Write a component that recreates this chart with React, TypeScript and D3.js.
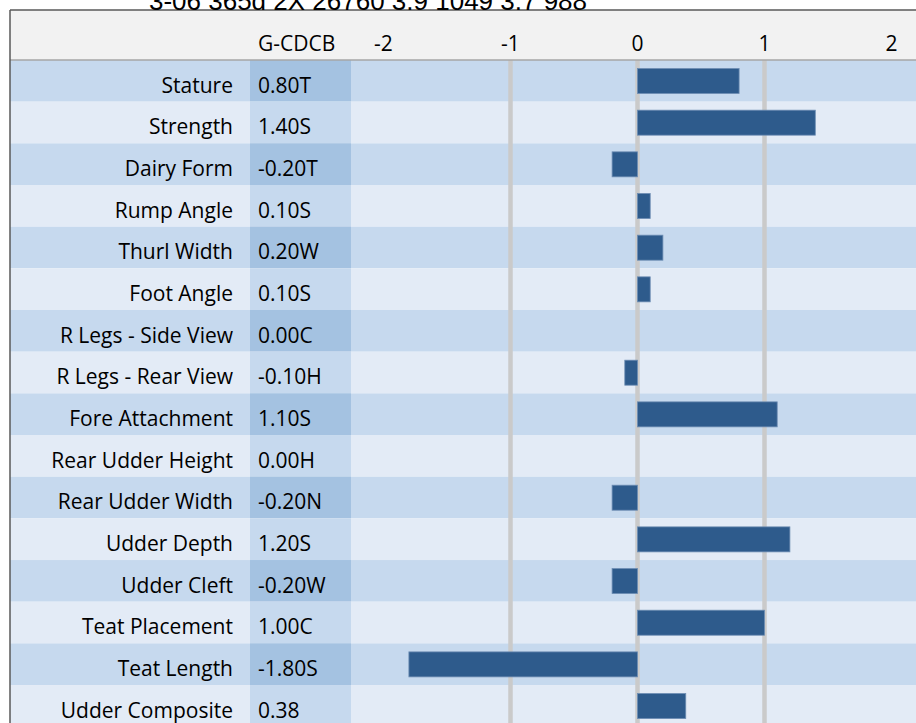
import React from "react";
import * as d3 from "d3";

const title = "3-06 365d 2X 26760 3.9 1049 3.7 988";
const columnHeader = "G-CDCB";
const traits = [
  "Stature",
  "Strength",
  "Dairy Form",
  "Rump Angle",
  "Thurl Width",
  "Foot Angle",
  "R Legs - Side View",
  "R Legs - Rear View",
  "Fore Attachment",
  "Rear Udder Height",
  "Rear Udder Width",
  "Udder Depth",
  "Udder Cleft",
  "Teat Placement",
  "Teat Length",
  "Udder Composite",
];
const values = [0.8, 1.4, -0.2, 0.1, 0.2, 0.1, 0.0, -0.1, 1.1, 0.0, -0.2, 1.2, -0.2, 1.0, -1.8, 0.38];
const valueLabels = [
  "0.80T", "1.40S", "-0.20T", "0.10S", "0.20W", "0.10S", "0.00C", "-0.10H",
  "1.10S", "0.00H", "-0.20N", "1.20S", "-0.20W", "1.00C", "-1.80S", "0.38",
];
const ticks = [-2, -1, 0, 1, 2];
const gridTicks = [-1, 0, 1];

const W = 916;
const H = 723;
const frameLeft = 10;
const frameTop = 10;
const headerBottom = 60;
const rowH = 41.67;
const labelColEnd = 250;
const valueColEnd = 351;

const FONT = "'Open Sans', Lato, sans-serif";
const FS = 21;

export default function App() {
  const x = d3.scaleLinear().domain([-2, 2]).range([383.5, 891.5]);
  const y = d3
    .scaleBand<string>()
    .domain(traits)
    .range([headerBottom, headerBottom + rowH * traits.length])
    .paddingInner(0)
    .paddingOuter(0);
  const bandH = y.bandwidth();
  const barH = 25;
  const barOff = 8.5;

  return (
    <svg
      width={W}
      height={H}
      style={{ position: "absolute", left: 0, top: 0, display: "block", background: "#fff" }}
    >
      {/* header */}
      <rect x={frameLeft} y={frameTop} width={W - frameLeft} height={headerBottom - frameTop} fill="#f2f2f2" />
      {/* rows */}
      {traits.map((t, i) => {
        const dark = i % 2 === 0;
        const y0 = y(t)!;
        return (
          <g key={t}>
            <rect x={frameLeft} y={y0} width={W - frameLeft} height={bandH} fill={dark ? "#c6d9ee" : "#e3ebf6"} />
            <rect x={labelColEnd} y={y0} width={valueColEnd - labelColEnd} height={bandH} fill={dark ? "#a4c2e1" : "#c6d9ee"} />
          </g>
        );
      })}
      {/* grid lines */}
      {gridTicks.map((t) => (
        <line
          key={t}
          x1={x(t)}
          x2={x(t)}
          y1={headerBottom}
          y2={H}
          stroke="#cacaca"
          strokeWidth={4.5}
        />
      ))}
      {/* bars */}
      {traits.map((t, i) => {
        const v = values[i];
        if (v === 0) return null;
        const x0 = Math.min(x(0), x(v));
        const w = Math.abs(x(v) - x(0));
        return (
          <rect
            key={t}
            x={x0}
            y={y(t)! + barOff}
            width={w}
            height={barH}
            fill="#2e5b8c"
            stroke="#6d8db3"
            strokeWidth={0.8}
          />
        );
      })}
      {/* header line */}
      <line x1={frameLeft} x2={W} y1={headerBottom} y2={headerBottom} stroke="#a6a6a6" strokeWidth={1.5} />
      {/* frame */}
      <line x1={frameLeft} x2={W} y1={frameTop} y2={frameTop} stroke="#595959" strokeWidth={1.5} />
      <line x1={frameLeft} x2={frameLeft} y1={frameTop} y2={H} stroke="#595959" strokeWidth={1.5} />
      {/* title */}
      <text
        x={368}
        y={9.5}
        textAnchor="middle"
        fontFamily="'Liberation Sans', Arial, sans-serif"
        fontSize={26}
        fill="#000"
      >
        {title}
      </text>
      {/* header texts */}
      <text x={258} y={51} fontFamily={FONT} fontSize={FS} fill="#000">
        {columnHeader}
      </text>
      {ticks.map((t) => (
        <text key={t} x={x(t)} y={51} textAnchor="middle" fontFamily={FONT} fontSize={FS} fill="#000">
          {d3.format("")(t).replace("−", "-")}
        </text>
      ))}
      {/* row labels */}
      {traits.map((t, i) => (
        <g key={t}>
          <text x={233} y={y(t)! + 32.5} textAnchor="end" fontFamily={FONT} fontSize={FS} fill="#000">
            {t}
          </text>
          <text x={258} y={y(t)! + 32.5} fontFamily={FONT} fontSize={FS} fill="#000">
            {valueLabels[i]}
          </text>
        </g>
      ))}
    </svg>
  );
}
